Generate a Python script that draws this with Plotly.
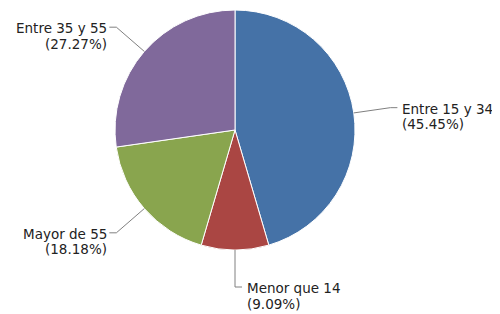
import math
import plotly.graph_objects as go

labels = ["Entre 15 y 34", "Menor que 14", "Mayor de 55", "Entre 35 y 55"]
values = [5, 1, 2, 3]
percent_text = ["45.45%", "9.09%", "18.18%", "27.27%"]
colors = ["#4572A7", "#AA4643", "#89A54E", "#80699B"]

PAGE_OFF = 8          # default body margin of the html page
W, H = 500 - PAGE_OFF, 314 - PAGE_OFF
CX, CY, R = 235 - PAGE_OFF, 130 - PAGE_OFF, 120  # pie centre/radius (figure pixels)
LINE_H = 15.5


def px(x):
    return x / W


def py(y):
    return 1 - y / H


fig = go.Figure(go.Pie(
    labels=labels,
    values=values,
    sort=False,
    direction="clockwise",
    rotation=0,
    textinfo="none",
    hoverinfo="label+percent",
    marker=dict(colors=colors, line=dict(color="#FFFFFF", width=1)),
    domain=dict(x=[px(CX - R), px(CX + R)], y=[py(CY + R), py(CY - R)]),
    showlegend=False,
))

total = sum(values)
cum = 0
shapes = []
annotations = []
for lab, val, pct in zip(labels, values, percent_text):
    mid = (cum + val / 2) / total * 2 * math.pi
    cum += val
    dx, dy = math.sin(mid), -math.cos(mid)
    ex, ey = CX + R * dx, CY + R * dy
    bx, by = CX + (R + 37) * dx, CY + (R + 37) * dy
    side = 1 if dx >= -1e-9 else -1
    hx = bx + side * 7
    path = f"M {px(ex)} {py(ey)} L {px(bx)} {py(by)} L {px(hx)} {py(by)}"
    shapes.append(dict(type="path", xref="paper", yref="paper", path=path,
                       line=dict(color="#808080", width=1)))
    gap = 3 if side > 0 else 0
    for i, line_text in enumerate([lab, f"({pct})"]):
        annotations.append(dict(
            xref="paper", yref="paper",
            x=px(hx + side * gap), y=py(by + 1 + i * LINE_H),
            xanchor="left" if side > 0 else "right", yanchor="middle",
            text=line_text, showarrow=False,
            font=dict(family="DejaVu Sans", size=13.5, color="#222222"),
        ))

fig.update_layout(
    width=W, height=H,
    margin=dict(l=0, r=0, t=0, b=0),
    paper_bgcolor="#FFFFFF", plot_bgcolor="#FFFFFF",
    shapes=shapes, annotations=annotations,
)

fig.write_html("out.html")
